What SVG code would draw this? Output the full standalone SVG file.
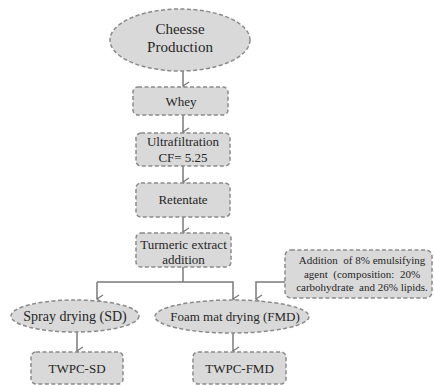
<svg xmlns="http://www.w3.org/2000/svg" width="434" height="385" viewBox="0 0 434 385">
<defs>
<style>
.n{fill:#d9d9d9;stroke:#8a8a8a;stroke-width:1.5;stroke-dasharray:4 2.5}
.t{font-family:"Liberation Serif","Times New Roman",serif;fill:#262626;text-anchor:middle}
.p{white-space:pre}
.c{fill:none;stroke:#7a7a7a;stroke-width:1.5}
</style>
<marker id="a" markerWidth="10" markerHeight="10" refX="5" refY="8" orient="auto" markerUnits="userSpaceOnUse" viewBox="0 0 10 10">
<path d="M1,2 L5,8 L9,2" fill="none" stroke="#7a7a7a" stroke-width="1.3"/>
</marker>
</defs>
<rect width="434" height="385" fill="#fff"/>
<g id="connectors">
<line class="c" x1="183" y1="71" x2="183" y2="86" marker-end="url(#a)"/>
<line class="c" x1="183" y1="115" x2="183" y2="132" marker-end="url(#a)"/>
<line class="c" x1="183" y1="166" x2="183" y2="182" marker-end="url(#a)"/>
<line class="c" x1="183" y1="217" x2="183" y2="232" marker-end="url(#a)"/>
<polyline class="c" points="183,267 183,282"/>
<polyline class="c" points="97,282 233,282 233,299" marker-end="url(#a)"/>
<line class="c" x1="97" y1="282" x2="97" y2="299" marker-end="url(#a)"/>
<polyline class="c" points="285,282 256,282 256,299" marker-end="url(#a)"/>
<line class="c" x1="77" y1="332" x2="77" y2="351" marker-end="url(#a)"/>
<line class="c" x1="233" y1="333" x2="233" y2="351" marker-end="url(#a)"/>
</g>
<g id="cheese">
<ellipse class="n" cx="180" cy="40" rx="70" ry="31"/>
<text class="t" x="180" y="34" font-size="15">Cheesse</text>
<text class="t" x="180" y="52" font-size="15">Production</text>
</g>
<g id="whey">
<rect class="n" x="133" y="87" width="95" height="28" rx="5"/>
<text class="t" x="181" y="106" font-size="13">Whey</text>
</g>
<g id="ultrafiltration">
<rect class="n" x="136" y="133" width="94" height="33" rx="5"/>
<text class="t" x="183" y="146" font-size="13">Ultrafiltration</text>
<text class="t" x="183" y="162" font-size="13">CF= 5.25</text>
</g>
<g id="retentate">
<rect class="n" x="136" y="183" width="94" height="34" rx="5"/>
<text class="t" x="183" y="204" font-size="13">Retentate</text>
</g>
<g id="turmeric">
<rect class="n" x="136" y="233" width="95" height="34" rx="5"/>
<text class="t" x="183.5" y="249" font-size="13">Turmeric extract</text>
<text class="t" x="183.5" y="264" font-size="13">addition</text>
</g>
<g id="emulsifier">
<rect class="n" x="285" y="250" width="147" height="48" rx="6"/>
<text class="t p" x="362" y="264" font-size="11" xml:space="preserve">Addition  of 8% emulsifying</text>
<text class="t p" x="362" y="278" font-size="11" xml:space="preserve">agent  (composition:  20%</text>
<text class="t p" x="362" y="291" font-size="11" xml:space="preserve">carbohydrate  and 26% lipids.</text>
</g>
<g id="spray">
<ellipse class="n" cx="75" cy="316" rx="64" ry="16"/>
<text class="t" x="75" y="321" font-size="14">Spray drying (SD)</text>
</g>
<g id="foam">
<ellipse class="n" cx="232" cy="316.5" rx="77" ry="16.5"/>
<text class="t" x="235" y="321" font-size="13">Foam mat drying (FMD)</text>
</g>
<g id="twpc-sd">
<rect class="n" x="31" y="352" width="92" height="32" rx="5"/>
<text class="t" x="77" y="373" font-size="13">TWPC-SD</text>
</g>
<g id="twpc-fmd">
<rect class="n" x="193" y="352" width="93" height="32" rx="5"/>
<text class="t" x="239.5" y="373" font-size="13">TWPC-FMD</text>
</g>
</svg>
